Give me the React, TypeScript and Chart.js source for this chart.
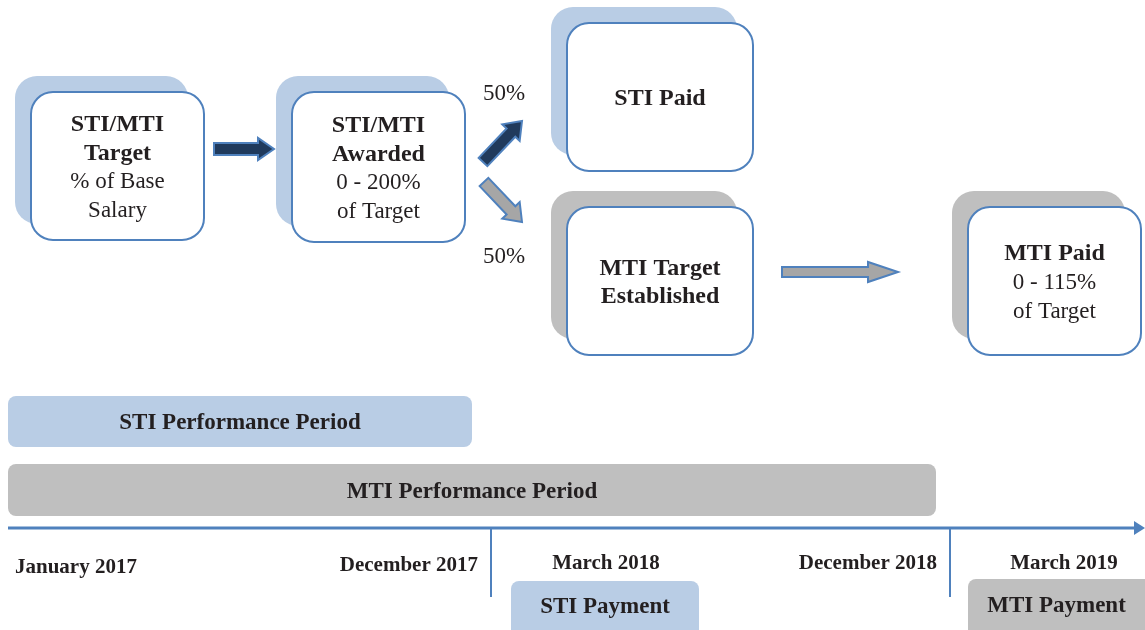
import React, { useEffect, useRef } from "react";
import { Chart, registerables } from "chart.js";

Chart.register(...registerables);

// ---- Diagram data (diagram units: x 0..1145, y 0..630 top-down) ----
const boxTitles: string[][] = [["STI/MTI", "Target"], ["STI/MTI", "Awarded"], ["STI Paid"], ["MTI Target", "Established"], ["MTI Paid"]];
const boxSubtitles: string[][] = [["% of Base", "Salary"], ["0 - 200%", "of Target"], [], [], ["0 - 115%", "of Target"]];
const boxLeft = [31, 292, 567, 567, 968];
const boxTop = [92, 92, 23, 207, 207];
const boxRight = [204, 465, 753, 753, 1141];
const boxBottom = [240, 242, 171, 355, 355];
const boxShadowKind = ["blue", "blue", "blue", "gray", "gray"];

const arrowTail: [number, number][] = [[214, 149], [483, 162], [484, 182], [782, 272]];
const arrowTip: [number, number][] = [[274, 149], [522, 121], [522, 222], [898, 272]];
const arrowShaft = [12, 12, 12, 10];
const arrowHeadW = [22, 24, 24, 20];
const arrowHeadL = [16, 16, 16, 30];
const arrowKind = ["dark", "dark", "gray", "gray"];

const pctLabels = ["50%", "50%"];
const pctX = [483, 483];
const pctY = [100, 263];

const periodLabels = ["STI Performance Period", "MTI Performance Period"];
const periodStart = [8, 8];
const periodEnd = [472, 936];
const periodTop = [396, 464];
const periodBottom = [447, 516];
const periodKind = ["blue", "gray"];
const periodBaseline = [429, 498];

const timelineY = 528;
const timelineStart = 8;
const timelineEnd = 1145;
const tickX = [491, 950];
const tickBottom = 597;

const dateLabels = ["January 2017", "December 2017", "March 2018", "December 2018", "March 2019"];
const dateX = [15, 478, 606, 937, 1064];
const dateAlign: CanvasTextAlign[] = ["left", "right", "center", "right", "center"];
const dateBaseline = [573, 571, 569, 569, 569];

const paymentLabels = ["STI Payment", "MTI Payment"];
const paymentStart = [511, 968];
const paymentEnd = [699, 1160];
const paymentTop = [581, 579];
const paymentBottom = [645, 645];
const paymentKind = ["blue", "gray"];
const paymentBaseline = [613, 612];

const COLORS: Record<string, string> = {
  blue: "#B9CDE5",
  gray: "#BFBFBF",
  dark: "#203A5C",
  arrowGray: "#A6A6A6",
  border: "#4F81BD",
  text: "#231F20",
};
const SERIF = "'Liberation Serif', 'Times New Roman', serif";

const diagramPlugin = {
  id: "diagram",
  afterDraw(chart: any) {
    const ctx: CanvasRenderingContext2D = chart.ctx;
    const sx = chart.scales.x;
    const sy = chart.scales.y;
    const X = (v: number) => sx.getPixelForValue(v);
    const Y = (v: number) => sy.getPixelForValue(v);
    ctx.save();

    // boxes with offset shadows
    for (let i = 0; i < boxTitles.length; i++) {
      const l = X(boxLeft[i]), t = Y(boxTop[i]), r = X(boxRight[i]), b = Y(boxBottom[i]);
      const w = r - l, h = b - t;
      ctx.fillStyle = COLORS[boxShadowKind[i]];
      ctx.beginPath();
      ctx.roundRect(l - 16, t - 16, w, h, 22);
      ctx.fill();
      ctx.fillStyle = "#FFFFFF";
      ctx.strokeStyle = COLORS.border;
      ctx.lineWidth = 2;
      ctx.beginPath();
      ctx.roundRect(l, t, w, h, 22);
      ctx.fill();
      ctx.stroke();

      const lines: { s: string; bold: boolean }[] = [
        ...boxTitles[i].map((s) => ({ s, bold: true })),
        ...boxSubtitles[i].map((s) => ({ s, bold: false })),
      ];
      const gap = 28.8;
      const cx = (l + r) / 2;
      const cy = (t + b) / 2;
      ctx.fillStyle = COLORS.text;
      ctx.textAlign = "center";
      ctx.textBaseline = "alphabetic";
      lines.forEach((ln, k) => {
        const yy = cy + (k - (lines.length - 1) / 2) * gap + 8;
        ctx.font = (ln.bold ? "bold 24px " : "23px ") + SERIF;
        ctx.fillText(ln.s, cx, yy);
      });
    }

    // block arrows
    for (let i = 0; i < arrowTail.length; i++) {
      const x0 = X(arrowTail[i][0]), y0 = Y(arrowTail[i][1]);
      const x1 = X(arrowTip[i][0]), y1 = Y(arrowTip[i][1]);
      const L = Math.hypot(x1 - x0, y1 - y0);
      const ang = Math.atan2(y1 - y0, x1 - x0);
      const s = arrowShaft[i] / 2, hw = arrowHeadW[i] / 2, hl = arrowHeadL[i];
      ctx.save();
      ctx.translate(x0, y0);
      ctx.rotate(ang);
      ctx.beginPath();
      ctx.moveTo(0, -s);
      ctx.lineTo(L - hl, -s);
      ctx.lineTo(L - hl, -hw);
      ctx.lineTo(L, 0);
      ctx.lineTo(L - hl, hw);
      ctx.lineTo(L - hl, s);
      ctx.lineTo(0, s);
      ctx.closePath();
      ctx.fillStyle = arrowKind[i] === "dark" ? COLORS.dark : COLORS.arrowGray;
      ctx.fill();
      ctx.strokeStyle = COLORS.border;
      ctx.lineWidth = 2;
      ctx.lineJoin = "miter";
      ctx.stroke();
      ctx.restore();
    }

    // percentage labels
    ctx.fillStyle = COLORS.text;
    ctx.font = "23px " + SERIF;
    ctx.textAlign = "left";
    for (let i = 0; i < pctLabels.length; i++) {
      ctx.fillText(pctLabels[i], X(pctX[i]), Y(pctY[i]));
    }

    // performance period bars
    for (let i = 0; i < periodLabels.length; i++) {
      const l = X(periodStart[i]), r = X(periodEnd[i]), t = Y(periodTop[i]), b = Y(periodBottom[i]);
      ctx.fillStyle = COLORS[periodKind[i]];
      ctx.beginPath();
      ctx.roundRect(l, t, r - l, b - t, 8);
      ctx.fill();
      ctx.fillStyle = COLORS.text;
      ctx.font = "bold 23px " + SERIF;
      ctx.textAlign = "center";
      ctx.fillText(periodLabels[i], (l + r) / 2, Y(periodBaseline[i]));
    }

    // timeline
    ctx.strokeStyle = COLORS.border;
    ctx.lineWidth = 3;
    ctx.beginPath();
    ctx.moveTo(X(timelineStart), Y(timelineY));
    ctx.lineTo(X(timelineEnd) - 8, Y(timelineY));
    ctx.stroke();
    ctx.fillStyle = COLORS.border;
    ctx.beginPath();
    ctx.moveTo(X(timelineEnd), Y(timelineY));
    ctx.lineTo(X(timelineEnd) - 11, Y(timelineY) - 7);
    ctx.lineTo(X(timelineEnd) - 11, Y(timelineY) + 7);
    ctx.closePath();
    ctx.fill();
    ctx.lineWidth = 2;
    for (const tx of tickX) {
      ctx.beginPath();
      ctx.moveTo(X(tx), Y(timelineY));
      ctx.lineTo(X(tx), Y(tickBottom));
      ctx.stroke();
    }

    // date labels
    ctx.fillStyle = COLORS.text;
    ctx.font = "bold 21px " + SERIF;
    for (let i = 0; i < dateLabels.length; i++) {
      ctx.textAlign = dateAlign[i];
      ctx.fillText(dateLabels[i], X(dateX[i]), Y(dateBaseline[i]));
    }

    // payment boxes
    for (let i = 0; i < paymentLabels.length; i++) {
      const l = X(paymentStart[i]), r = X(paymentEnd[i]), t = Y(paymentTop[i]), b = Y(paymentBottom[i]);
      ctx.fillStyle = COLORS[paymentKind[i]];
      ctx.beginPath();
      ctx.roundRect(l, t, r - l, b - t, 8);
      ctx.fill();
      ctx.fillStyle = COLORS.text;
      ctx.font = "bold 23px " + SERIF;
      ctx.textAlign = "center";
      const cxp = i === 0 ? (l + r) / 2 : (X(paymentStart[i]) + X(1145)) / 2;
      ctx.fillText(paymentLabels[i], cxp, Y(paymentBaseline[i]));
    }

    ctx.restore();
  },
};

export default function App() {
  const ref = useRef<HTMLCanvasElement | null>(null);
  useEffect(() => {
    if (!ref.current) return;
    const chart = new Chart(ref.current, {
      type: "scatter",
      data: { datasets: [] },
      options: {
        animation: false,
        responsive: false,
        maintainAspectRatio: false,
        devicePixelRatio: 1,
        layout: { padding: 0 },
        plugins: { legend: { display: false }, tooltip: { enabled: false } },
        scales: {
          x: { type: "linear", min: 0, max: 1145, display: false },
          y: { type: "linear", min: 0, max: 630, reverse: true, display: false },
        },
      },
      plugins: [diagramPlugin],
    });
    return () => chart.destroy();
  }, []);
  return (
    <div style={{ position: "fixed", left: 0, top: 0, width: 1145, height: 630, background: "#fff" }}>
      <canvas ref={ref} width={1145} height={630} style={{ display: "block" }} />
    </div>
  );
}
